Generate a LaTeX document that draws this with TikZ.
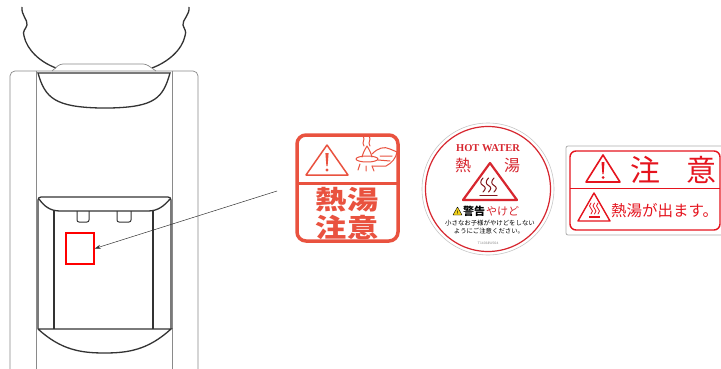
\documentclass[tikz,border=0pt]{standalone}
\usepackage{graphicx}
\usepackage{fontspec}
\newfontfamily\jp{Noto Sans CJK JP}
\newfontfamily\latinserif{Liberation Serif}
\usetikzlibrary{arrows.meta, positioning, calc}
\definecolor{lineblack}{HTML}{333333}
\definecolor{linegrey}{HTML}{8A8A8A}
\definecolor{coral}{HTML}{E9523F}
\definecolor{hotred}{HTML}{D7262F}
\definecolor{signred}{HTML}{E5141E}
\definecolor{warnyellow}{HTML}{F2D21B}

\begin{document}
\begin{tikzpicture}[x=1pt, y=-1pt,
    thinline/.style={linegrey, line width=0.7pt},
    thickline/.style={lineblack, line width=1.3pt},
    spotbox/.style={draw=red, line width=1.6pt, minimum width=28pt,
                    minimum height=31pt, inner sep=0pt},
    arr/.style={-{Stealth[length=6pt, width=4pt]}, line width=0.5pt, lineblack},
    bigjp/.style={inner sep=0pt, font=\jp\bfseries\fontsize{26}{26}\selectfont},
    steam/.style={line width=1pt, line cap=round}
  ]
  \fill[white] (0,0) rectangle (721,369);
  \useasboundingbox (0,0) rectangle (721,369);

  % bottle and collar
  \draw[thickline] (22,7) .. controls (21,15) and (28,20) .. (27,25)
    .. controls (26,29) and (22,31) .. (24,36) .. controls (27,50) and (40,62) .. (56,68);
  \draw[thickline] (189,7) .. controls (190,15) and (182,20) .. (183,25)
    .. controls (184,29) and (187,31) .. (185,36) .. controls (182,50) and (168,62) .. (152,68);
  \draw[thinline, rounded corners=3pt] (52,71) -- (60,64) -- (146,64) -- (156,71);

  % cabinet
  \draw[thinline, rounded corners=5pt] (10,369) -- (10,71) -- (198,71) -- (198,369);
  \draw[thinline] (36,71) -- (36,369) (172.5,71) -- (172.5,369);
  \draw[thickline] (38,73) -- (170,73) .. controls (163,98) and (155,107) .. (110,108)
    -- (100,108) .. controls (55,107) and (45,98) .. (38,73) -- cycle;

  % tap recess and drip tray
  \draw[thickline, rounded corners=3pt] (38,329) -- (38,197) -- (171,197) -- (171,329);
  \draw[thickline] (39,199) .. controls (44,206) and (50,211) .. (60,211) -- (148,211)
    .. controls (158,211) and (164,206) .. (170,199);
  \draw[thickline] (54,210) -- (54,329) (153,210) -- (153,329);
  \foreach \a/\b in {77/89, 117/131}
    \draw[thickline, line width=1pt, rounded corners=2pt] (\a,211) -- (\a,222) -- (\b,222) -- (\b,211);
  \draw[thickline] (38,329) -- (171,329) .. controls (148,350) and (128,353) .. (104.5,353)
    .. controls (81,353) and (61,350) .. (38,329);

  \node[spotbox] (spot) at (80,248.5) {};
  \coordinate (tail) at (277,191);
  \draw[arr] (tail) -- (spot.east);

  % square label
  \draw[coral, line width=3.5pt, rounded corners=9pt] (297,135) rectangle (398,241);
  \draw[coral, line width=3pt] (297,183) -- (398,183);
  \draw[coral, line width=1.5pt, line join=round] (327,145) -- (348,175) -- (306,175) -- cycle;
  \fill[coral] (325.4,153) -- (328.6,153) -- (327.6,166) -- (326.4,166) -- cycle;
  \fill[coral] (327,170) circle (1.6pt);
  \begin{scope}[coral, line width=1pt, line cap=round, line join=round]
    \draw (364,146) .. controls (361,142) and (366,140) .. (363,136);
    \draw (370,146) .. controls (367,142) and (372,140) .. (369,136);
    \draw (362,157) .. controls (364,150) and (366,148) .. (367,146)
      .. controls (368,148) and (370,150) .. (372,157);
    \draw (372,154) .. controls (378,148) and (384,146) .. (390,149) -- (397,152)
      .. controls (396,158) and (392,163) .. (386,166) -- (372,166);
    \draw (380,156) -- (392,156) (378,160) -- (390,161);
    \draw (367,159) ellipse (11pt and 3pt);
    \draw (360,164) -- (358,170) (366,166) -- (366,171) (372,166) -- (374,171);
  \end{scope}
  \node[bigjp, coral] (netsu1) at (347,200) {\scalebox{1.2}[1]{熱湯}};
  \node[bigjp, coral] (chui1) at (347,227) {\scalebox{1.2}[1]{注意}};

  % round label
  \draw[linegrey!50, line width=0.6pt] (488,189) circle (66pt);
  \draw[hotred, line width=1.2pt] (488,189) circle (62.5pt);
  \node[hotred, inner sep=0pt, font=\latinserif\bfseries\fontsize{10.5}{10.5}\selectfont]
    (hot) at (488,148.5) {HOT WATER};
  \node[hotred, inner sep=0pt, font=\jp\fontsize{16}{16}\selectfont] (netsu2) at (463,165) {熱};
  \node[hotred, inner sep=0pt, font=\jp\fontsize{16}{16}\selectfont] (yu2) at (512,165) {湯};
  \draw[hotred, line width=2.2pt, line join=round] (490,163) -- (517,200) -- (463,200) -- cycle;
  \foreach \x in {483,488.5,494}
    \draw[steam, hotred!60!black] (\x,192) .. controls (\x+3,189) and (\x+3,187) .. (\x,185.5)
      .. controls (\x-3,184) and (\x-3,181) .. (\x,178);
  \draw[steam, hotred!60!black, line width=1.4pt] (480,195.5) -- (497,195.5);
  \draw[black, line width=0.4pt, fill=warnyellow, line join=round]
    (457.5,207) -- (462,215) -- (453,215) -- cycle;
  \node[inner sep=0pt, font=\sffamily\bfseries\fontsize{5}{5}\selectfont] (bang2) at (457.5,212.3) {!};
  \node[anchor=west, inner sep=0pt, font=\jp\bfseries\fontsize{11}{11}\selectfont] (keikoku) at (463,211) {警告};
  \node[right=0.5pt of keikoku, inner sep=0pt, hotred, font=\jp\fontsize{11}{11}\selectfont] (yakedo) {やけど};
  \node[inner sep=0pt, font=\jp\fontsize{6.4}{6.4}\selectfont] (note1) at (490,223) {小さなお子様がやけどをしない};
  \node[inner sep=0pt, font=\jp\fontsize{6.4}{6.4}\selectfont] (note2) at (489,231.5) {ようにご注意ください。};
  \node[inner sep=0pt, linegrey, font=\sffamily\fontsize{3.5}{3.5}\selectfont] (code) at (488,243) {T14038W024};

  % wide label
  \draw[linegrey!70, line width=0.8pt, rounded corners=2pt] (566,146) rectangle (726,235);
  \draw[signred, line width=1.4pt, rounded corners=6pt] (570,151) rectangle (720,230);
  \draw[signred, line width=1pt] (570,188) -- (720,188);
  \draw[signred, line width=1.6pt, line join=round] (603,155) -- (620,182) -- (586,182) -- cycle;
  \fill[signred] (601.5,162) -- (604.5,162) -- (603.6,174) -- (602.4,174) -- cycle;
  \fill[signred] (603,177.5) circle (1.5pt);
  \node[signred, inner sep=0pt, font=\jp\fontsize{30}{30}\selectfont] (chu3) at (645,170) {注};
  \node[signred, inner sep=0pt, font=\jp\fontsize{30}{30}\selectfont] (i3) at (701,170) {意};
  \draw[signred, line width=1.4pt, line join=round] (594,193) -- (610,221) -- (578,221) -- cycle;
  \foreach \x in {591,594.5,598}
    \draw[steam, signred, line width=0.8pt] (\x,214) .. controls (\x+2,212) and (\x+2,210) .. (\x,208.5)
      .. controls (\x-2,207) and (\x-2,205) .. (\x,203);
  \draw[signred, line width=1.1pt] (589,217) -- (600,217);
  \node[anchor=west, signred, inner sep=0pt, font=\jp\fontsize{15.5}{15.5}\selectfont] (deru) at (611,211) {熱湯が出ます。};
\end{tikzpicture}
\end{document}
